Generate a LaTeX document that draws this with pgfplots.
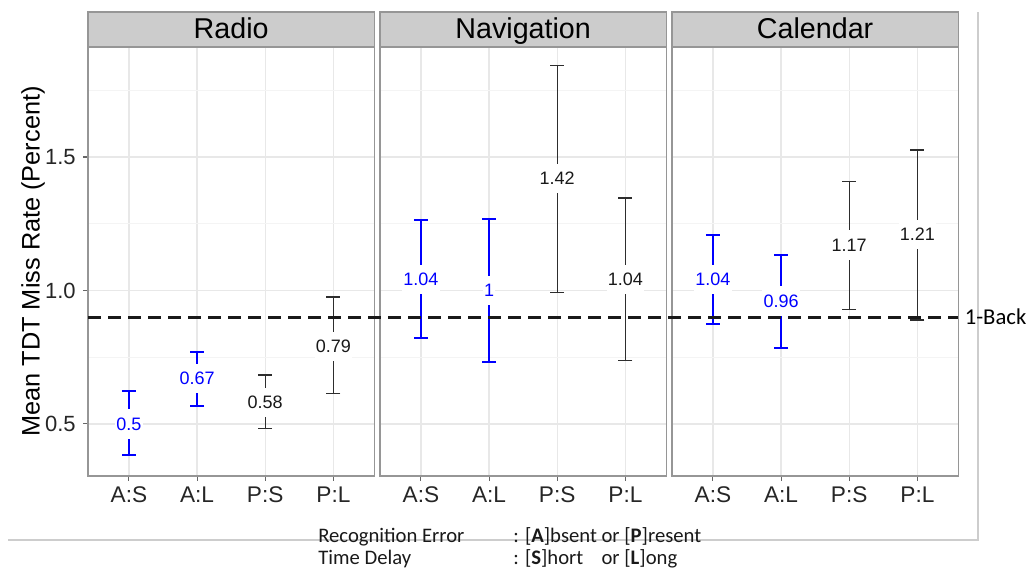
\documentclass[border=0pt]{standalone}
\usepackage{pgfplots}
\pgfplotsset{compat=1.18}
\usepackage{pgfplotstable}
\usepackage{fontspec}
\setmainfont{Liberation Sans}
\newfontfamily\calibri{Carlito}

\definecolor{stripfill}{RGB}{204,204,204}
\definecolor{panelborder}{RGB}{150,150,150}
\definecolor{gridmaj}{RGB}{232,232,232}
\definecolor{gridmin}{RGB}{244,244,244}
\definecolor{barblack}{RGB}{45,45,45}
\definecolor{framegray}{RGB}{205,205,205}

% x: 1=A:S 2=A:L 3=P:S 4=P:L ; m = mean ; ep/em = extent of bar above/below mean
\pgfplotstableread{
x m ep em lab
1 0.50 0.124 0.116 0.5
2 0.67 0.099 0.101 0.67
3 0.58 0.103 0.098 0.58
4 0.79 0.185 0.175 0.79
}\radiotab
\pgfplotstableread{
x m ep em lab
1 1.04 0.224 0.219 1.04
2 1.00 0.269 0.269 1
3 1.42 0.423 0.427 1.42
4 1.04 0.306 0.302 1.04
}\navtab
\pgfplotstableread{
x m ep em lab
1 1.04 0.168 0.165 1.04
2 0.96 0.173 0.176 0.96
3 1.17 0.238 0.242 1.17
4 1.21 0.316 0.320 1.21
}\caltab

\newlength{\orlen}

\pgfplotsset{
  panel/.style={
    scale only axis, width=214.725pt, height=321.75pt, anchor=south west,
    xmin=0.4, xmax=4.6, ymin=0.305, ymax=1.912,
    xtick={1,2,3,4}, xticklabels={A:S,A:L,P:S,P:L},
    ytick={0.5,1.0,1.5}, minor ytick={0.75,1.25,1.75},
    grid=both,
    major grid style={gridmaj, line width=1pt},
    minor grid style={gridmin, line width=0.75pt},
    axis line style={panelborder, line width=1.1pt},
    tick align=outside, tick pos=left,
    major tick length=3.75pt, minor tick length=0pt,
    tick style={black!60, line width=0.8pt},
    xticklabel style={font=\fontsize{17}{17}\selectfont, text=black!85, inner sep=4.25pt},
    yticklabel style={font=\fontsize{16.5}{16.5}\selectfont, text=black!85, inner sep=5.25pt},
    clip=false,
  },
  errA/.style={blue, line width=1.5pt, only marks, mark=none, restrict x to domain=1:2,
    error bars/.cd, y dir=both, y explicit,
    error bar style={blue, line width=1.5pt},
    error mark options={rotate=90, blue, line width=1.5pt, mark size=5.25pt}},
  errP/.style={barblack, line width=1.1pt, only marks, mark=none, restrict x to domain=3:4,
    error bars/.cd, y dir=both, y explicit,
    error bar style={barblack, line width=1.1pt},
    error mark options={rotate=90, barblack, line width=1.1pt, mark size=5.25pt}},
  labA/.style={draw=none, mark=none, restrict x to domain=1:2,
    nodes near coords, point meta=explicit symbolic,
    every node near coord/.append style={anchor=center, fill=white, text=blue,
      inner xsep=1pt, inner ysep=0pt, minimum height=22pt, font=\fontsize{13.5}{13.5}\selectfont}},
  labP/.style={draw=none, mark=none, restrict x to domain=3:4,
    nodes near coords, point meta=explicit symbolic,
    every node near coord/.append style={anchor=center, fill=white, text=black!90,
      inner xsep=1pt, inner ysep=0pt, minimum height=22pt, font=\fontsize{13.5}{13.5}\selectfont}},
}

\begin{document}
\begin{tikzpicture}
\useasboundingbox (0,0) rectangle (771.75pt,429.75pt);

% frame lines of the source figure
\draw[framegray, line width=0.9pt] (6pt,24.75pt) -- (733.5pt,24.75pt) -- (733.5pt,420.75pt);

\begin{axis}[panel, name=radio, at={(66pt,72.75pt)},
  every axis y label/.style={at={(axis description cs:-0.1921,0.5)}, rotate=90, anchor=center},
  ylabel={Mean TDT Miss Rate (Percent)},
  ylabel style={font=\fontsize{19}{19}\selectfont, text=black},
  yticklabels={0.5,1.0,1.5}]
\addplot[errA] table[x=x, y=m, y error plus=ep, y error minus=em] {\radiotab};
\addplot[errP] table[x=x, y=m, y error plus=ep, y error minus=em] {\radiotab};
\addplot[labA] table[x=x, y=m, meta=lab] {\radiotab};
\addplot[labP] table[x=x, y=m, meta=lab] {\radiotab};
\end{axis}

\begin{axis}[panel, name=nav, at={(285pt,72.75pt)}, yticklabels={}, ytick style={draw=none}]
\addplot[errA] table[x=x, y=m, y error plus=ep, y error minus=em] {\navtab};
\addplot[errP] table[x=x, y=m, y error plus=ep, y error minus=em] {\navtab};
\addplot[labA] table[x=x, y=m, meta=lab] {\navtab};
\addplot[labP] table[x=x, y=m, meta=lab] {\navtab};
\end{axis}

\begin{axis}[panel, name=cal, at={(504pt,72.75pt)}, yticklabels={}, ytick style={draw=none}]
\addplot[errA] table[x=x, y=m, y error plus=ep, y error minus=em] {\caltab};
\addplot[errP] table[x=x, y=m, y error plus=ep, y error minus=em] {\caltab};
\addplot[labA] table[x=x, y=m, meta=lab] {\caltab};
\addplot[labP] table[x=x, y=m, meta=lab] {\caltab};
% 1-Back reference line across all three panels
\addplot[black!90, line width=2.25pt, dash pattern=on 9.75pt off 5.25pt, mark=none]
  coordinates {(-8.167,0.9) (4.6,0.9)}
  node[pos=1, anchor=west, inner sep=0pt, xshift=3.75pt, solid, text=black,
       font=\calibri\fontsize{17}{17}\selectfont] {1-Back};
\end{axis}

% facet strips
\foreach \n/\t in {radio/Radio, nav/Navigation, cal/Calendar}{
  \draw[fill=stripfill, draw=panelborder, line width=1.1pt] (\n.north west) rectangle ([yshift=26.25pt]\n.north east);
  \node[anchor=base, inner sep=0pt, font=\fontsize{21.5}{21.5}\selectfont, text=black] at ([yshift=6pt]\n.north) {\t};
}

% legend text below
\begin{scope}[every node/.style={anchor=base west, inner sep=0pt, font=\calibri\fontsize{15.5}{15.5}\selectfont, text=black!90}]
\node at (238.5pt,22.5pt) {Recognition Error};
\node at (384.75pt,22.5pt) {: [\textbf{A}]bsent or [\textbf{P}]resent};
\node at (238.5pt,6pt) {Time Delay};
\node at (384.75pt,6pt) {\settowidth{\orlen}{[\textbf{A}]bsent}: \makebox[\orlen][l]{[\textbf{S}]hort\hspace{0.6em}} or [\textbf{L}]ong};
\end{scope}
\end{tikzpicture}
\end{document}
